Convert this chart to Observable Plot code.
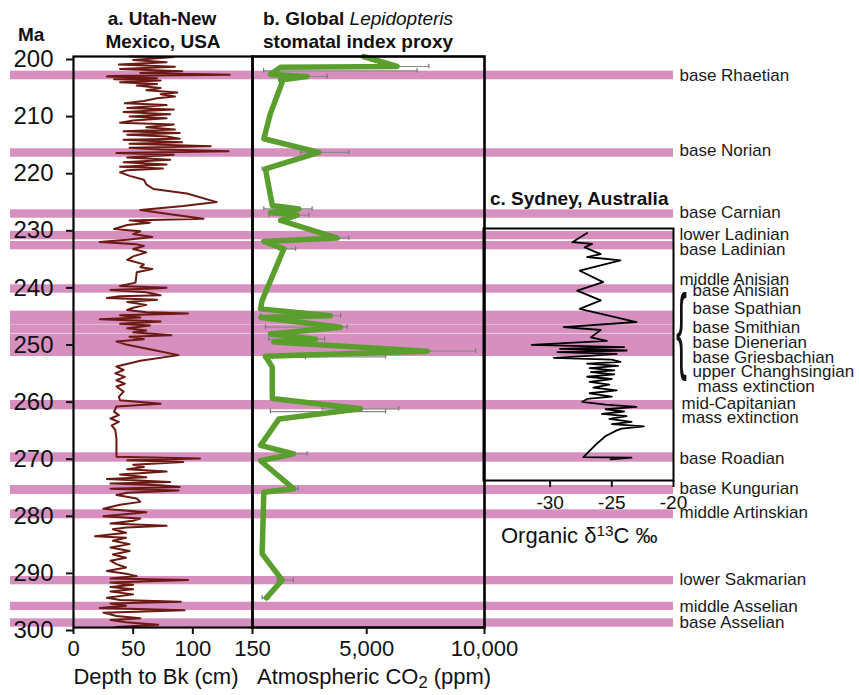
<!DOCTYPE html>
<html><head><meta charset="utf-8">
<script src="https://cdn.jsdelivr.net/npm/d3@7"></script>
<script src="https://cdn.jsdelivr.net/npm/@observablehq/plot@0.6"></script>
<style>
body{margin:0;background:#fff;}
#chart{position:relative;width:859px;height:695px;font-family:"Liberation Sans",Arial,sans-serif;color:#111;overflow:hidden;background:#fff}
#chart svg{position:absolute;left:0;top:0;}
.t{position:absolute;white-space:nowrap;line-height:1;}
.b{font-weight:bold;}
</style></head><body><div id="chart"></div>
<script>
// ---------- DATA ----------
// Panel a: Utah-New Mexico depth to Bk (cm) vs age (Ma)
const ageA = [200.0,200.1,200.6,201.0,201.4,201.8,202.2,202.6,202.9,203.2,203.4,203.5,203.8,204.0,204.2,204.5,204.8,205.1,205.5,205.9,206.3,206.6,207.0,207.3,207.8,208.2,208.5,209.0,209.3,209.7,210.1,210.5,210.8,211.2,211.6,211.9,212.4,212.8,213.1,213.4,213.7,214.0,214.4,214.6,215.0,215.3,215.7,216.0,216.3,216.6,216.9,217.2,217.7,218.1,218.5,218.9,219.3,219.6,219.9,220.3,220.9,221.6,222.4,223.2,224.0,225.5,226.2,226.9,227.7,228.4,228.7,229.1,229.5,230.2,230.6,231.1,231.6,232.1,232.5,232.9,233.2,233.7,234.3,235.0,235.6,236.4,236.9,237.2,237.8,239.6,240.2,240.5,
240.6,240.9,241.3,241.8,242.0,242.3,242.6,243.0,243.5,244.0,244.4,244.8,245.0,245.3,245.7,246.0,246.4,246.8,247.1,247.6,248.0,248.3,248.8,249.1,249.5,249.9,250.5,251.4,252.3,253.3,254.3,254.9,255.5,256.1,256.7,257.3,257.8,258.7,259.6,260.2,260.8,261.3,262.2,262.8,263.4,264.0,264.6,265.4,266.9,268.7,270.1,270.4,270.7,271.0,271.5,271.9,272.3,272.7,273.2,273.7,274.0,274.5,274.8,275.1,275.4,275.7,276.0,276.4,276.8,277.4,278.0,278.5,279.2,279.8,
280.5,280.9,281.3,281.8,282.2,282.5,282.8,283.4,284.0,284.3,284.8,285.4,286.0,286.6,287.2,287.8,288.3,288.9,289.5,290.1,290.6,291.0,291.4,291.7,292.1,292.5,292.9,293.3,293.7,294.2,294.8,295.2,295.5,295.8,296.2,296.6,297.0,297.4,298.0,298.4,298.7,299.1,299.5,299.9];
const depthA = [47,84,50,78,38,85,39,91,56,131,31,28,70,34,73,39,70,53,73,61,87,73,85,70,59,43,78,45,84,42,81,47,78,50,39,84,61,85,42,89,45,78,89,42,91,47,115,47,73,130,36,84,45,81,42,78,39,75,45,39,47,59,61,67,95,120,92,56,84,109,47,64,45,34,56,50,66,45,22,53,59,50,61,50,45,59,56,66,53,52,39,78,
73,31,61,73,39,28,70,45,61,50,45,61,96,39,56,22,73,39,64,45,61,50,82,47,59,36,45,67,88,56,36,42,35,43,36,43,36,42,38,39,73,36,34,38,31,38,32,35,36,36,36,106,45,92,50,59,45,78,39,61,28,81,31,73,89,31,88,45,36,53,56,39,25,61,
25,56,50,31,78,44,33,44,18,44,33,47,31,47,33,44,31,36,44,28,44,53,31,96,31,50,31,50,31,50,28,39,90,31,44,22,93,25,36,56,31,44,71,36];

// Panel b: Lepidopteris stomatal index CO2 (ppm)
const ageB = [200.0,201.75,201.9,203.15,203.5,204.1,204.5,210.0,214.4,216.8,219.7,226.1,226.7,227.3,227.8,228.7,231.8,232.4,233.7,242.7,244.2,245.4,245.7,247.4,248.6,249.5,250.0,251.6,252.5,254.4,259.9,261.7,263.5,268.1,269.6,270.8,275.7,276.3,287.1,291.7,294.8];
const co2B = [4860,6290,1340,910,2470,1340,1410,910,630,2970,700,990,2120,910,2050,1340,3750,630,1480,560,490,3460,510,3890,910,2830,1050,7570,700,990,990,4740,1270,490,1900,490,1900,630,560,1410,740];
// error bars
const errAge = [201.75,202.5,203.5,216.8,219.7,226.7,227.8,231.8,233.7,245.4,247.4,249.5,251.6,252.6,252.7,261.7,262.2,269.6,275.7,291.7,294.8];
const errLo  = [5370,620,1550,2190,560,630,840,3530,1270,490,700,840,5370,630,1000,3110,910,1550,1700,1200,560];
const errHi  = [7640,7140,3320,4240,840,2680,2540,4240,1980,3890,4170,3210,9620,5800,2400,6360,5800,2470,2100,1880,850];

// Panel c: Sydney organic d13C
const ageC = [230.9,232.5,232.8,233.4,234.6,235.1,235.7,237.5,239.5,241.0,242.7,244.2,246.5,247.4,247.9,249.2,249.8,250.5,250.9,251.2,251.5,251.8,252.1,252.4,252.8,253.1,253.5,253.8,254.2,254.6,255.0,255.3,255.7,256.1,256.5,257.0,257.5,258.0,258.5,259.0,259.6,260.0,260.5,261.0,261.4,261.8,262.2,262.6,263.0,263.5,264.0,264.4,264.8,265.2,265.5,266.5,268.0,270.2,270.3,270.6];
const d13C = [-27.0,-28.2,-26.6,-27.2,-25.9,-27.0,-24.3,-27.6,-25.7,-27.8,-25.9,-27.6,-23.0,-28.9,-25.9,-26.7,-25.4,-31.5,-24.0,-29.2,-23.8,-29.4,-24.6,-26.5,-29.7,-25.0,-24.3,-27.0,-24.5,-26.8,-24.8,-26.7,-24.8,-27.0,-25.0,-26.8,-25.2,-26.5,-24.6,-26.8,-25.0,-27.0,-27.4,-25.5,-23.0,-25.5,-24.0,-25.8,-23.8,-25.2,-23.4,-25.0,-22.4,-24.2,-24.6,-25.5,-26.3,-27.3,-23.4,-25.1];

// Stage boundary bands (Ma, top/bottom)
const bandTop    = [202.57,216.16,226.85,230.65,232.4,239.98,244.6,247.0,248.6,260.25,269.4,275.13,279.39,291.07,295.57,298.48];
const bandBottom = [204.08,217.64,228.32,232.1,233.85,241.45,246.93,248.5,252.54,261.87,271.05,276.7,280.96,292.52,297.02,299.95];

// Boundary labels (baseline age in Ma, group)
const labelText = ["base Rhaetian","base Norian","base Carnian","lower Ladinian","base Ladinian","middle Anisian","base Anisian","base Spathian","base Smithian","base Dienerian","base Griesbachian","upper Changhsingian","mass extinction","mid-Capitanian","mass extinction","base Roadian","base Kungurian","middle Artinskian","lower Sakmarian","middle Asselian","base Asselian"];
const labelAge  = [204.33,217.5,228.3,232.1,234.7,240.1,242.0,245.1,248.5,251.1,253.7,256.2,258.8,261.7,264.2,271.3,276.6,280.9,292.6,297.3,300.1];
const labelGroup= ["main","main","main","main","main","main","brace","brace","brace","brace","brace","brace","ext","cap","cap","main","main","main","main","main","main"];

const maTicks = [200,210,220,230,240,250,260,270,280,290,300];
const depthTicks = [0,50,100,150];
const co2Ticks = [5000,10000];
const d13Ticks = [-30,-25,-20];

// ---------- BUILD ----------
const PINK = "#d68fbf", BROWN = "#6a1a12", GREEN = "#5a9f2e";
const panelA = ageA.map((a,i)=>({age:a, depth:depthA[i]}));
const panelB = ageB.map((a,i)=>({age:a, co2:co2B[i]}));
const errs = errAge.map((a,i)=>({age:a, lo:errLo[i], hi:errHi[i]}));
const panelC = ageC.map((a,i)=>({age:a, d:d13C[i]}));
const bands = bandTop.map((t,i)=>({top:t, bottom:bandBottom[i]}));
const labels = labelText.map((t,i)=>({name:t, age:labelAge[i], group:labelGroup[i]}));

const chart = document.getElementById("chart");
const STYLE = "background:transparent;position:absolute;left:0;top:0;overflow:visible;font-family:'Liberation Sans',Arial,sans-serif;color:#111";
const base = {width:859, height:695, marginTop:56, marginBottom:68, style:STYLE};
const yMa = {domain:[200,300], reverse:true, axis:null};

const txt = (g, dx) => Plot.text(labels.filter(d=>d.group===g), {x:1, y:"age", text:"name", textAnchor:"start", lineAnchor:"bottom", dx, fontSize:17, fill:"#1a1a1a"});

const bandsPlot = Plot.plot({...base, marginLeft:10, marginRight:186,
  x:{domain:[0,1], axis:null}, y:yMa,
  marks:[
    Plot.rect(bands, {x1:0, x2:1, y1:"top", y2:"bottom", fill:PINK}),
    txt("main",6), txt("brace",19), txt("ext",24), txt("cap",8)
  ]});

const aPlot = Plot.plot({...base, marginLeft:73, marginRight:607,
  x:{domain:[0,150]}, y:{domain:[200,300], reverse:true},
  marks:[
    Plot.line(panelA, {x:"depth", y:"age", stroke:BROWN, strokeWidth:2}),
    Plot.frame({stroke:"#000", strokeWidth:2.2}),
    Plot.axisY(maTicks, {tickSize:7, tickPadding:13, fontSize:24, strokeWidth:2, label:null, dy:3, fill:"#111"}),
    Plot.axisX(depthTicks, {tickSize:7, tickPadding:6, fontSize:22, strokeWidth:2, label:null, fill:"#111"})
  ]});

const bPlot = Plot.plot({...base, marginLeft:252, marginRight:375,
  x:{domain:[150,10000]}, y:{domain:[200,300], reverse:true, axis:null},
  marks:[
    Plot.link(errs, {x1:"lo", x2:"hi", y1:"age", y2:"age", stroke:"#8a8a8a", strokeWidth:1.2}),
    Plot.ruleX(errs, {x:"lo", y1:d=>d.age-0.4, y2:d=>d.age+0.4, stroke:"#777", strokeWidth:1.2}),
    Plot.ruleX(errs, {x:"hi", y1:d=>d.age-0.4, y2:d=>d.age+0.4, stroke:"#777", strokeWidth:1.2}),
    Plot.line(panelB, {x:"co2", y:"age", stroke:GREEN, strokeWidth:5.5, strokeLinejoin:"round"}),
    Plot.frame({stroke:"#000", strokeWidth:2.6}),
    Plot.axisX(co2Ticks, {tickSize:7, tickPadding:6, fontSize:22, strokeWidth:2, label:null, tickFormat:d3.format(","), fill:"#111"})
  ]});

const cPlot = Plot.plot({width:859, height:695, marginTop:228, marginBottom:215, marginLeft:483, marginRight:186, style:STYLE,
  x:{domain:[-35.4,-20]}, y:{domain:[230.1,274.3], reverse:true, axis:null},
  marks:[
    Plot.line(panelC, {x:"d", y:"age", stroke:"#000", strokeWidth:1.8}),
    Plot.frame({stroke:"#000", strokeWidth:2}),
    Plot.axisX(d13Ticks, {tickSize:7, tickPadding:8, fontSize:19, strokeWidth:2, label:null, tickFormat:d=>String(d), fill:"#111"})
  ]});

[bandsPlot, aPlot, bPlot, cPlot].forEach(p => chart.appendChild(p));

// ---------- TEXT ----------
function put(html, x, baseline, fs, cls, align){
  const el = document.createElement("div");
  el.className = "t " + (cls||"");
  el.innerHTML = html;
  el.style.fontSize = fs + "px";
  el.style.top = (baseline - 0.8465*fs) + "px";
  if (align === "center") { el.style.left = x + "px"; el.style.transform = "translateX(-50%)"; }
  else el.style.left = x + "px";
  chart.appendChild(el);
  return el;
}
put("Ma", 18, 41, 19, "b");
put("a. Utah-New", 162, 25, 19, "b", "center");
put("Mexico, USA", 163, 48, 19, "b", "center");
put("b. Global <i style='font-weight:normal'>Lepidopteris</i>", 263, 25, 19, "b");
put("stomatal index proxy", 263, 48, 19, "b");
put("c. Sydney, Australia", 490, 205, 19, "b");
put("Depth to Bk (cm)", 156, 685, 22, "", "center");
put("Atmospheric CO<sub style='font-size:0.75em;vertical-align:-0.25em'>2</sub> (ppm)", 257, 685, 22, "");
put("Organic δ<sup style='font-size:0.7em;vertical-align:0.45em'>13</sup>C ‰", 501, 542, 22, "");
const br = put("{", 676, 362, 94, "");
br.style.transform = "scaleX(0.35)";
br.style.transformOrigin = "left top";
br.style.fontWeight = "300";
</script></body></html>
